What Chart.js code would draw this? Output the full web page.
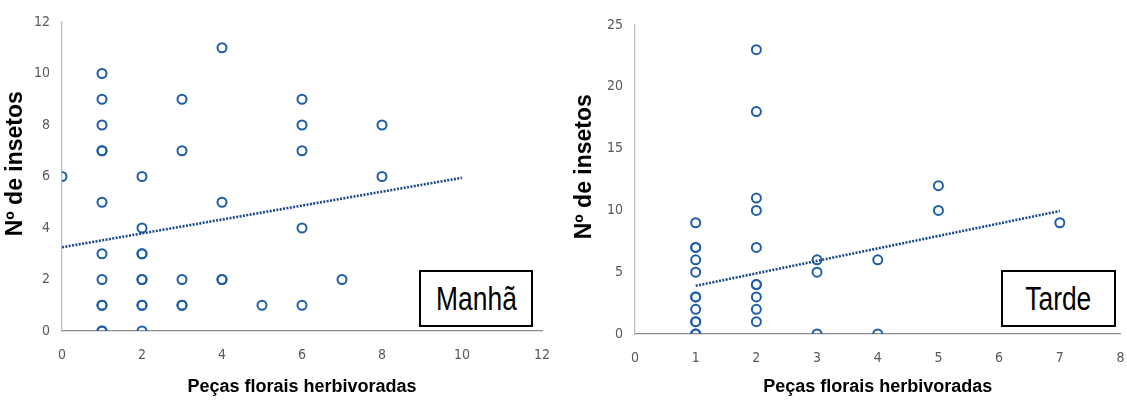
<!DOCTYPE html>
<html><head><meta charset="utf-8">
<script src="https://cdn.jsdelivr.net/npm/chart.js@4/dist/chart.umd.min.js"></script>
<style>
body{margin:0;background:#fff;width:1127px;height:400px;overflow:hidden;position:relative}
canvas{position:absolute;top:0}
#c1{left:0}
#c2{left:567px}
.tag{position:absolute;box-sizing:border-box;border:2px solid #000;background:#fff;display:flex;align-items:center;justify-content:center;color:#000}
.tag span{display:inline-block;font-family:'Liberation Sans',Arial,sans-serif;font-size:33px;transform:scaleX(0.8);white-space:nowrap}
</style></head><body>
<canvas id="c1" width="560" height="400"></canvas>
<canvas id="c2" width="560" height="400"></canvas>
<div class="tag" style="left:419px;top:270px;width:114px;height:57px"><span>Manhã</span></div>
<div class="tag" style="left:1001px;top:270px;width:115px;height:57px"><span>Tarde</span></div>
<script>
// Manhã (morning)
const manhaX = [0, 1,1,1,1,1,1,1,1,1,1,1,1, 2,2,2,2,2,2,2,2,2, 3,3,3,3,3, 4,4,4,4, 5, 6,6,6,6,6, 7, 8,8];
const manhaY = [6, 10,9,8,7,7,5,3,2,1,1,0,0, 6,4,3,3,2,2,1,1,0, 9,7,2,1,1, 11,5,2,2, 1, 9,8,7,4,1, 2, 8,6];
const manhaTrendX = [0, 10];
const manhaTrendY = [3.25, 5.95];
const manhaXTicks = [0, 12, 2];
const manhaYTicks = [0, 12, 2];

// Tarde (afternoon)
const tardeX = [1,1,1,1,1,1,1,1,1,1,1,1, 2,2,2,2,2,2,2,2,2,2, 3,3,3, 4,4, 5,5, 7];
const tardeY = [9,7,7,6,5,3,3,2,1,1,0,0, 23,18,11,10,7,4,4,3,2,1, 6,5,0, 6,0, 12,10, 9];
const tardeTrendX = [1, 7];
const tardeTrendY = [3.9, 9.95];
const tardeXTicks = [0, 8, 1];
const tardeYTicks = [0, 25, 5];

const xTitle = 'Peças florais herbivoradas';
const yTitle = 'Nº de insetos';

const tickFont = {family: "'DejaVu Sans Condensed',sans-serif", size: 14};
const xTitleFont = {family: "'Liberation Sans',Arial,sans-serif", size: 18, weight: 'bold'};
const yTitleFont = {family: "'Liberation Sans',Arial,sans-serif", size: 23, weight: 'bold'};

function pts(xs, ys){ return xs.map((x,i)=>({x:x, y:ys[i]})); }

function make(id, xs, ys, tx, ty, xt, yt, g){
  new Chart(document.getElementById(id), {
    type: 'scatter',
    data: {datasets: [
      {data: pts(tx, ty), showLine: true, pointRadius: 0, borderColor: '#1a4a8a', borderWidth: 2.6, borderDash: [2, 1.4], fill: false, order: 0},
      {data: pts(xs, ys), pointRadius: 4.5, pointBorderWidth: 2, pointBackgroundColor: 'rgba(0,0,0,0)', pointBorderColor: '#1f5ea8', order: 1}
    ]},
    options: {
      responsive: false, animation: false, devicePixelRatio: 1,
      layout: {padding: {left: 0, right: g.right, top: g.top, bottom: 0}},
      plugins: {legend: {display: false}, tooltip: {enabled: false}},
      scales: {
        x: {type: 'linear', min: xt[0], max: xt[1],
            ticks: {stepSize: xt[2], color: '#595959', font: tickFont, padding: 0, maxRotation: 0},
            grid: {display: false, drawTicks: true, tickLength: 16},
            border: {display: true, color: '#8c8c8c', width: 1.3},
            title: {display: true, text: xTitle, color: '#000', font: xTitleFont, padding: {top: 0, bottom: 2}},
            afterFit: s => { s.height = g.xh; }},
        y: {type: 'linear', min: yt[0], max: yt[1],
            ticks: {stepSize: yt[2], color: '#595959', font: tickFont, padding: 12},
            grid: {display: false, drawTicks: false},
            border: {display: true, color: '#bcbcbc', width: 1.3},
            title: {display: true, text: '    ' + yTitle, color: '#000', font: yTitleFont, padding: {top: g.yt, bottom: 0}},
            afterFit: s => { s.width = g.yw; }}
      }
    }
  });
}

make('c1', manhaX, manhaY, manhaTrendX, manhaTrendY, manhaXTicks, manhaYTicks, {right: 18, top: 22, xh: 69, yw: 62, yt: 2});
make('c2', tardeX, tardeY, tardeTrendX, tardeTrendY, tardeXTicks, tardeYTicks, {right: 5, top: 25, xh: 66, yw: 68, yt: 4});
</script>
</body></html>
